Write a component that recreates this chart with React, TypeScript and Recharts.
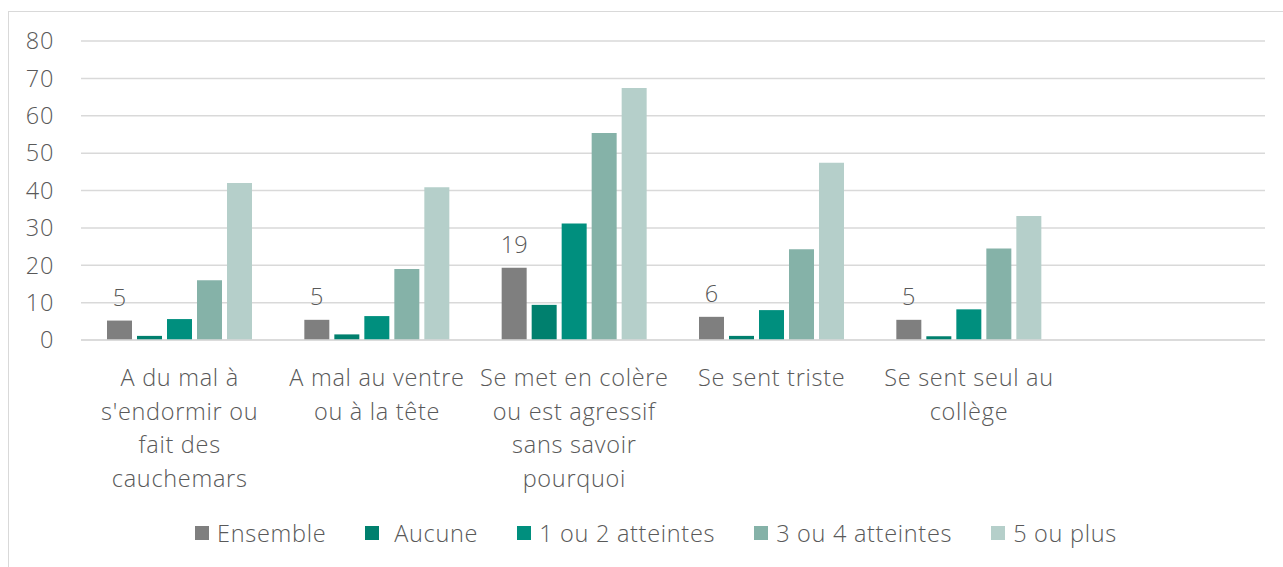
import { BarChart, Bar, XAxis, YAxis, CartesianGrid, Legend, LabelList } from 'recharts';

// categories (last slot is empty, as in the source chart)
const categories = [
  "A du mal à\ns'endormir ou\nfait des\ncauchemars",
  'A mal au ventre\nou à la tête',
  'Se met en colère\nou est agressif\nsans savoir\npourquoi',
  'Se sent triste',
  'Se sent seul au\ncollège',
  '',
];

const ensemble = [5.2, 5.4, 19.3, 6.2, 5.4, null];
const aucune = [1.1, 1.5, 9.4, 1.1, 1.0, null];
const unOuDeux = [5.6, 6.4, 31.2, 8.0, 8.2, null];
const troisOuQuatre = [16.0, 19.0, 55.4, 24.3, 24.5, null];
const cinqOuPlus = [42.0, 40.9, 67.4, 47.4, 33.2, null];

const yTicks = [0, 10, 20, 30, 40, 50, 60, 70, 80];

const series = [
  { key: 'ensemble', name: 'Ensemble', color: '#7F7F7F' },
  { key: 'aucune', name: ' Aucune', color: '#00806E' },
  { key: 'unOuDeux', name: '1 ou 2 atteintes', color: '#008F7E' },
  { key: 'troisOuQuatre', name: '3 ou 4 atteintes', color: '#85B2A8' },
  { key: 'cinqOuPlus', name: '5 ou plus', color: '#B5CFCA' },
];

const data = categories.map((name, i) => ({
  name,
  ensemble: ensemble[i],
  aucune: aucune[i],
  unOuDeux: unOuDeux[i],
  troisOuQuatre: troisOuQuatre[i],
  cinqOuPlus: cinqOuPlus[i],
}));

const FONT = '"Open Sans", Lato, sans-serif';
const TEXT = '#595959';
const FS = 23.5;
const LS = 0.7;

const CategoryTick = ({ x, y, payload }: any) => {
  const lines = String(payload.value).split('\n');
  return (
    <text x={x} y={y} textAnchor="middle" fill={TEXT} fontSize={FS} fontFamily={FONT} fontWeight={300} letterSpacing={LS}>
      {lines.map((l, i) => (
        <tspan key={i} x={x} dy={i === 0 ? 38 : 33.6}>{l}</tspan>
      ))}
    </text>
  );
};

const LegendContent = () => (
  <div style={{
    display: 'flex', justifyContent: 'center', alignItems: 'center', height: 40,
    fontFamily: FONT, fontWeight: 300, fontSize: FS, color: TEXT, letterSpacing: LS, paddingLeft: 86,
  }}>
    {series.map((s) => (
      <div key={s.key} style={{ display: 'flex', alignItems: 'center', marginRight: 39, whiteSpace: 'pre' }}>
        <span style={{ width: 14, height: 14, background: s.color, display: 'inline-block', marginRight: 8 }} />
        <span>{s.name}</span>
      </div>
    ))}
  </div>
);

export default function App() {
  return (
    <div style={{ position: 'relative', width: 1283, height: 567, overflow: 'hidden', background: '#fff' }}>
      <style>{'body{margin:0}'}</style>
      <div style={{
        position: 'absolute', left: 8, top: 11, width: 1400, height: 700,
        borderLeft: '1px solid #D9D9D9', borderTop: '1px solid #D9D9D9',
      }} />
      <div style={{ position: 'absolute', left: 0, top: 0 }}>
        <BarChart
          width={1283}
          height={567}
          data={data}
          margin={{ top: 41, right: 18, left: 0, bottom: 14 }}
          barSize={25}
          barGap={5}
        >
          <CartesianGrid vertical={false} stroke="#D9D9D9" strokeWidth={1.5} />
          <XAxis
            dataKey="name"
            axisLine={{ stroke: '#D9D9D9', strokeWidth: 1.5 }}
            tickLine={false}
            interval={0}
            height={173}
            tick={<CategoryTick />}
          />
          <YAxis
            domain={[0, 80]}
            ticks={yTicks}
            width={81}
            axisLine={false}
            tickLine={false}
            tickSize={0}
            tickMargin={27}
            tick={{ fill: TEXT, fontSize: FS, fontFamily: FONT, fontWeight: 300, letterSpacing: LS }}
          />
          <Legend verticalAlign="bottom" height={40} content={<LegendContent />} />
          {series.map((s) => (
            <Bar key={s.key} dataKey={s.key} name={s.name} fill={s.color} isAnimationActive={false}>
              {s.key === 'ensemble' && (
                <LabelList
                  dataKey="ensemble"
                  position="top"
                  offset={15}
                  fill={TEXT}
                  fontSize={FS}
                  fontFamily={FONT}
                  fontWeight={300}
                  formatter={(v: any) => (v == null ? '' : Math.round(v))}
                />
              )}
            </Bar>
          ))}
        </BarChart>
      </div>
    </div>
  );
}
